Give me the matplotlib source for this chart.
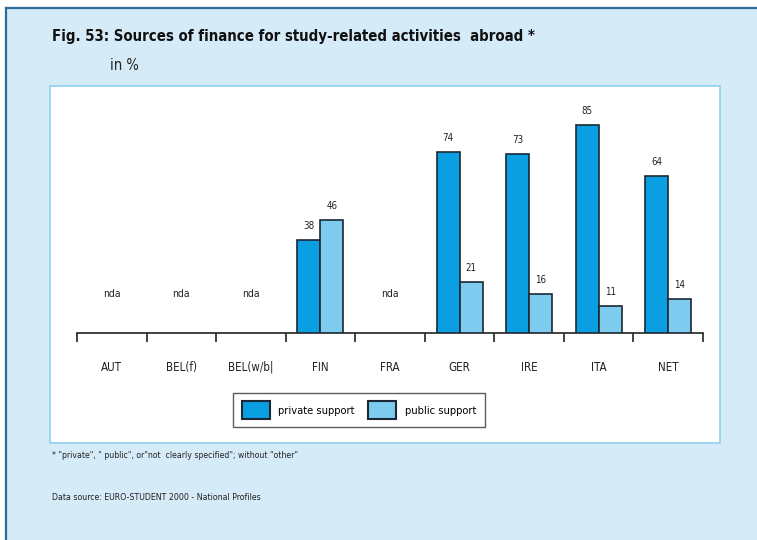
import matplotlib
matplotlib.use("Agg")
import matplotlib.pyplot as plt
from matplotlib.patches import Rectangle, Patch
from matplotlib.lines import Line2D
import numpy as np

plt.rcParams['font.family'] = ['DejaVu Sans']
plt.rcParams['font.stretch'] = 'condensed'

# Data
countries = ["AUT", "BEL(f)", "BEL(w/b|", "FIN", "FRA", "GER", "IRE", "ITA", "NET"]
private_support = [None, None, None, 38, None, 74, 73, 85, 64]
public_support = [None, None, None, 46, None, 21, 16, 11, 14]
series_names = ["private support", "public support"]

title = "Fig. 53: Sources of finance for study-related activities  abroad *"
subtitle = "in %"
footnote = '* "private", " public", or"not  clearly specified"; without "other"'
source = "Data source: EURO-STUDENT 2000 - National Profiles"

# Styling
W, H = 757, 540
bg = "#d5ebf8"
frame_blue = "#2d6b9c"
panel_edge = "#8fd0ee"
c_private = "#0a9fe0"
c_public = "#7dcbef"
bar_edge = "#1b2733"


def fx(px):
    return px / W


def fy(py):
    return 1 - py / H


fig = plt.figure(figsize=(W / 100, H / 100), dpi=100)
fig.patch.set_facecolor("white")

# Light-blue page with dark top/left rule
fig.patches.append(Rectangle((fx(6), 0), 1 - fx(6), fy(8), transform=fig.transFigure,
                             facecolor=bg, edgecolor="none", zorder=0))
fig.lines.append(Line2D([fx(6), 1], [fy(8), fy(8)], transform=fig.transFigure,
                        color=frame_blue, lw=1.6, zorder=1))
fig.lines.append(Line2D([fx(6), fx(6)], [0, fy(8)], transform=fig.transFigure,
                        color=frame_blue, lw=1.6, zorder=1))

# White chart panel
fig.patches.append(Rectangle((fx(50), fy(443)), fx(720) - fx(50), fy(86) - fy(443),
                             transform=fig.transFigure, facecolor="white",
                             edgecolor=panel_edge, lw=1.2, zorder=1))

fig.text(fx(52), fy(37), title, fontsize=10.7, fontweight="bold", color="#111111",
         va="center", ha="left")
fig.text(fx(110), fy(66), subtitle, fontsize=10.5, color="#222222", va="center", ha="left")
fig.text(fx(52), fy(456), footnote, fontsize=6.2, color="#222222", va="center", ha="left")
fig.text(fx(52), fy(497), source, fontsize=6.3, color="#222222", va="center", ha="left")

# Axes
px_per_unit = 2.45
ax = fig.add_axes([fx(77), fy(333), fx(703) - fx(77), fy(86) - fy(333)])
ax.set_facecolor("none")
ax.set_xlim(-0.5, len(countries) - 0.5)
ax.set_ylim(0, (333 - 86) / px_per_unit)
ax.set_zorder(2)

x = np.arange(len(countries))
bw = 0.33
label_off = 14 / px_per_unit
for i, (pv, pu) in enumerate(zip(private_support, public_support)):
    if pv is None:
        ax.text(x[i], 16, "nda", ha="center", va="center", fontsize=7.5, color="#222222")
        continue
    ax.bar(x[i] - bw / 2, pv, width=bw, color=c_private, edgecolor=bar_edge, lw=1.2, zorder=3)
    ax.bar(x[i] + bw / 2, pu, width=bw, color=c_public, edgecolor=bar_edge, lw=1.2, zorder=3)
    ax.text(x[i] - bw / 2, pv + label_off, str(pv), ha="center", va="center",
            fontsize=7, color="#222222")
    ax.text(x[i] + bw / 2, pu + label_off, str(pu), ha="center", va="center",
            fontsize=7, color="#222222")

for s in ["top", "right", "left"]:
    ax.spines[s].set_visible(False)
ax.spines["bottom"].set_color("#222222")
ax.spines["bottom"].set_linewidth(1.2)
ax.set_yticks([])
ax.set_xticks(np.arange(len(countries) + 1) - 0.5)
ax.set_xticklabels([])
ax.tick_params(axis="x", which="major", direction="out", length=6.5, width=1.2, color="#222222")
ax.set_xticks(x, countries, minor=True)
ax.tick_params(axis="x", which="minor", length=0, pad=20, labelsize=8.3, labelcolor="#222222")

handles = [Patch(facecolor=c_private, edgecolor=bar_edge, lw=1.5, label=series_names[0]),
           Patch(facecolor=c_public, edgecolor=bar_edge, lw=1.5, label=series_names[1])]
leg = fig.legend(handles=handles, loc="center", bbox_to_anchor=(fx(359), fy(410)),
                 ncol=2, frameon=True, fancybox=False, fontsize=8,
                 handlelength=2.5, handleheight=2.0, columnspacing=1.2,
                 handletextpad=0.8, borderpad=0.8, borderaxespad=0.0)
leg.get_frame().set_edgecolor("#333333")
leg.get_frame().set_linewidth(1.0)
leg.set_zorder(3)

fig.savefig("out.png", dpi=100, facecolor=fig.get_facecolor())
